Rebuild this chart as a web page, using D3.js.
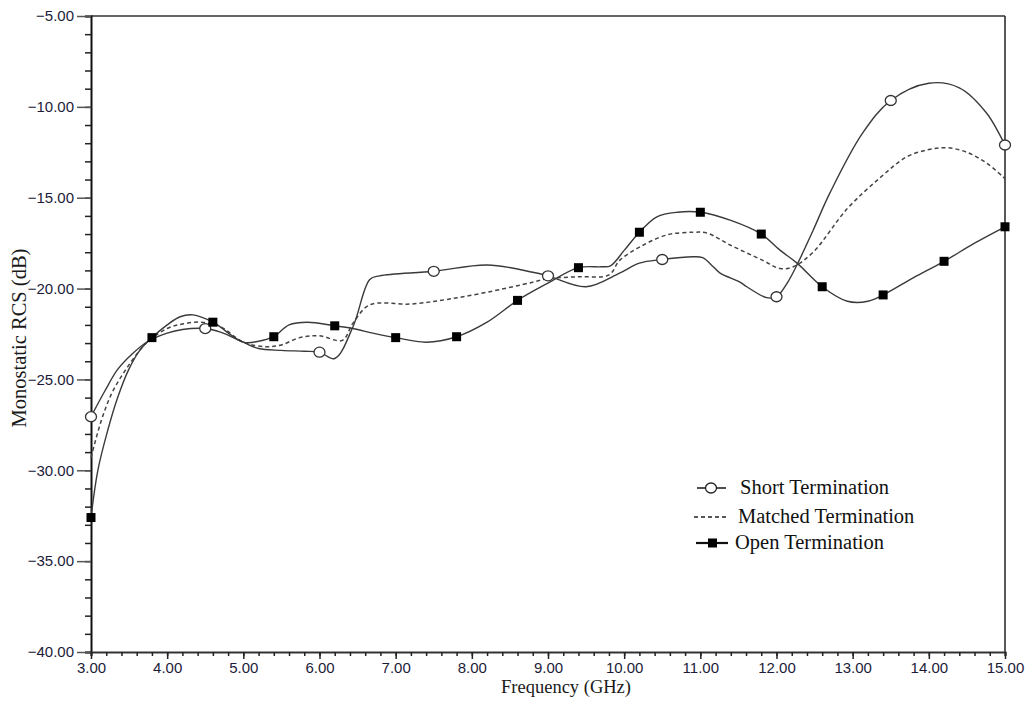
<!DOCTYPE html>
<html><head><meta charset="utf-8">
<script src="https://cdn.jsdelivr.net/npm/d3@7"></script>
<style>body{margin:0;background:#fff}svg{display:block}</style>
</head><body><svg id="c" width="1027" height="702"></svg>
<script>
// ---- data ----
const xTicks = [3,4,5,6,7,8,9,10,11,12,13,14,15];
const yTicks = [-5,-10,-15,-20,-25,-30,-35,-40];

const shortFreq = [3.0,3.18,3.35,3.54,3.75,4.0,4.2,4.5,4.7,5.0,5.2,5.5,5.8,6.0,6.2,6.44,6.66,6.79,7.5,8.2,8.8,9.0,9.5,9.94,10.2,10.5,10.9,11.03,11.17,11.26,11.52,11.61,11.87,12.0,12.14,12.28,12.48,12.7,13.13,13.5,14.0,14.4,14.76,15.0];
const shortVal  = [-27.05,-25.65,-24.45,-23.6,-22.9,-22.45,-22.25,-22.2,-22.4,-22.95,-23.3,-23.4,-23.45,-23.5,-23.85,-22.1,-19.5,-19.3,-19.05,-18.7,-19.1,-19.3,-19.9,-19.15,-18.6,-18.4,-18.25,-18.3,-18.8,-19.15,-19.65,-19.9,-20.5,-20.45,-19.7,-18.6,-16.8,-14.75,-11.45,-9.65,-8.7,-8.95,-10.35,-12.1];
const shortMarkers = [3.0,4.5,6.0,7.5,9.0,10.5,12.0,13.5,15.0];

const matchedFreq = [3.0,3.14,3.28,3.45,3.62,3.75,4.0,4.2,4.45,4.7,5.0,5.3,5.5,5.74,6.0,6.3,6.44,6.66,7.2,7.67,8.2,8.8,9.0,9.4,9.8,9.94,10.21,10.56,10.9,11.09,11.39,11.82,12.05,12.22,12.48,12.93,13.36,13.71,14.0,14.24,14.5,14.76,15.0];
const matchedVal  = [-29.3,-27.2,-25.7,-24.5,-23.5,-22.9,-22.2,-21.95,-21.85,-22.1,-22.95,-23.2,-23.1,-22.7,-22.6,-22.85,-21.9,-20.9,-20.85,-20.6,-20.2,-19.65,-19.45,-19.35,-19.25,-18.45,-17.7,-17.05,-16.9,-16.95,-17.6,-18.45,-18.9,-18.8,-18.0,-15.6,-13.9,-12.75,-12.35,-12.25,-12.5,-13.1,-13.95];

const openFreq = [3.0,3.09,3.22,3.35,3.49,3.64,3.8,4.0,4.17,4.34,4.6,5.0,5.2,5.4,5.6,5.84,6.2,6.44,6.7,7.0,7.4,7.8,8.2,8.6,9.0,9.4,9.7,9.82,10.0,10.2,10.43,10.7,11.0,11.4,11.8,12.05,12.27,12.6,12.93,13.2,13.4,13.8,14.2,14.6,15.0];
const openVal  = [-32.6,-30.0,-27.8,-26.0,-24.5,-23.4,-22.7,-22.0,-21.55,-21.45,-21.85,-22.95,-22.9,-22.65,-22.0,-21.85,-22.05,-22.2,-22.45,-22.7,-22.95,-22.65,-21.85,-20.65,-19.7,-18.85,-18.8,-18.75,-17.9,-16.9,-16.05,-15.8,-15.8,-16.25,-17.0,-17.9,-18.6,-19.9,-20.7,-20.7,-20.35,-19.4,-18.5,-17.5,-16.6];
const openMarkers = [3.0,3.8,4.6,5.4,6.2,7.0,7.8,8.6,9.4,10.2,11.0,11.8,12.6,13.4,14.2,15.0];

const legendLabels = ["Short Termination","Matched Termination","Open Termination"];
const xTitle = "Frequency (GHz)";
const yTitle = "Monostatic RCS (dB)";

// ---- drawing ----
const svg = d3.select("#c");
const L = 91, R = 1005, T = 16, B = 652;
const x = d3.scaleLinear().domain([3,15]).range([L,R]);
const y = d3.scaleLinear().domain([-40,-5]).range([B,T]);
const lineCol = "#3a3a3a";

// borders
svg.append("line").attr("x1",L).attr("x2",R).attr("y1",T).attr("y2",T).attr("stroke","#666").attr("stroke-width",2);
svg.append("line").attr("x1",R).attr("x2",R).attr("y1",T).attr("y2",B).attr("stroke","#222").attr("stroke-width",1.5);

// y axis
const yMinor = d3.range(-40,-4,1);
const ya = svg.append("g").attr("transform",`translate(${L},0)`)
  .call(d3.axisLeft(y).tickValues(yMinor).tickSize(6).tickFormat(""));
ya.selectAll("line").attr("stroke","#222").attr("stroke-width",1.5);
ya.select(".domain").attr("stroke","#111").attr("stroke-width",2);
const yb = svg.append("g").attr("transform",`translate(${L},0)`)
  .call(d3.axisLeft(y).tickValues(yTicks).tickSize(14).tickPadding(3).tickFormat(d3.format(".2f")));
yb.select(".domain").remove();
yb.selectAll("line").attr("stroke","#555").attr("stroke-width",1.5);
yb.selectAll("text").attr("font-family","Arial, 'Liberation Sans', sans-serif").attr("font-size",15).attr("fill","#1c1c3a");

// x axis
const xMinor = d3.range(3,15.0001,0.2);
const xa = svg.append("g").attr("transform",`translate(0,${B})`)
  .call(d3.axisBottom(x).tickValues(xMinor).tickSize(4).tickFormat(""));
xa.selectAll("line").attr("stroke","#222").attr("stroke-width",1.5);
xa.select(".domain").attr("stroke","#333").attr("stroke-width",2);
const xb = svg.append("g").attr("transform",`translate(0,${B})`)
  .call(d3.axisBottom(x).tickValues(xTicks).tickSize(7).tickPadding(3).tickFormat(d3.format(".2f")));
xb.select(".domain").remove();
xb.selectAll("line").attr("stroke","#222").attr("stroke-width",1.5);
xb.selectAll("text").attr("font-family","Arial, 'Liberation Sans', sans-serif").attr("font-size",15).attr("fill","#1c1c3a");

// titles
svg.append("text").attr("x",566).attr("y",693).attr("text-anchor","middle")
  .attr("font-family","'Liberation Serif','Times New Roman',serif").attr("font-size",18.5).attr("fill","#1a1a1a").text(xTitle);
svg.append("text").attr("transform","translate(26,338) rotate(-90)").attr("text-anchor","middle")
  .attr("font-family","'Liberation Serif','Times New Roman',serif").attr("font-size",20.5).attr("fill","#1a1a1a").text(yTitle);

// series
const line = d3.line().x(d=>x(d[0])).y(d=>y(d[1])).curve(d3.curveCatmullRom.alpha(0.5));
function zip(a,b){return a.map((v,i)=>[v,b[i]]);}
const shortData = zip(shortFreq,shortVal), matchedData = zip(matchedFreq,matchedVal), openData = zip(openFreq,openVal);

svg.append("path").datum(matchedData).attr("d",line).attr("fill","none").attr("stroke","#444").attr("stroke-width",1.5).attr("stroke-dasharray","4,3");
svg.append("path").datum(openData).attr("d",line).attr("fill","none").attr("stroke",lineCol).attr("stroke-width",1.4);
svg.append("path").datum(shortData).attr("d",line).attr("fill","none").attr("stroke",lineCol).attr("stroke-width",1.4);

const shortM = shortData.filter(d=>shortMarkers.some(m=>Math.abs(m-d[0])<1e-6));
svg.append("g").selectAll("ellipse").data(shortM).join("ellipse")
  .attr("cx",d=>x(d[0])).attr("cy",d=>y(d[1])).attr("rx",5.5).attr("ry",5)
  .attr("fill","#fff").attr("stroke","#333").attr("stroke-width",1.3);
const openM = openData.filter(d=>openMarkers.some(m=>Math.abs(m-d[0])<1e-6));
svg.append("g").selectAll("rect").data(openM).join("rect")
  .attr("x",d=>x(d[0])-4.5).attr("y",d=>y(d[1])-4.5).attr("width",9).attr("height",9).attr("fill","#000");

// legend
const lg = svg.append("g");
const ly = [488,517,543];
const ty = [494,523,549];
const tx = [740,738,735];
lg.append("line").attr("x1",697).attr("x2",726).attr("y1",ly[0]).attr("y2",ly[0]).attr("stroke","#222").attr("stroke-width",1.6);
lg.append("ellipse").attr("cx",711).attr("cy",ly[0]).attr("rx",5.5).attr("ry",5).attr("fill","#fff").attr("stroke","#222").attr("stroke-width",1.3);
lg.append("line").attr("x1",694).attr("x2",726).attr("y1",ly[1]).attr("y2",ly[1]).attr("stroke","#222").attr("stroke-width",1.6).attr("stroke-dasharray","4,3");
lg.append("line").attr("x1",696).attr("x2",728).attr("y1",ly[2]).attr("y2",ly[2]).attr("stroke","#111").attr("stroke-width",2.2);
lg.append("rect").attr("x",708).attr("y",ly[2]-4.5).attr("width",9).attr("height",9).attr("fill","#000");
legendLabels.forEach((t,i)=>{
  lg.append("text").attr("x",tx[i]).attr("y",ty[i]).attr("font-family","'Liberation Serif','Times New Roman',serif")
    .attr("font-size",20.5).attr("fill","#111").text(t);
});
</script></body></html>
